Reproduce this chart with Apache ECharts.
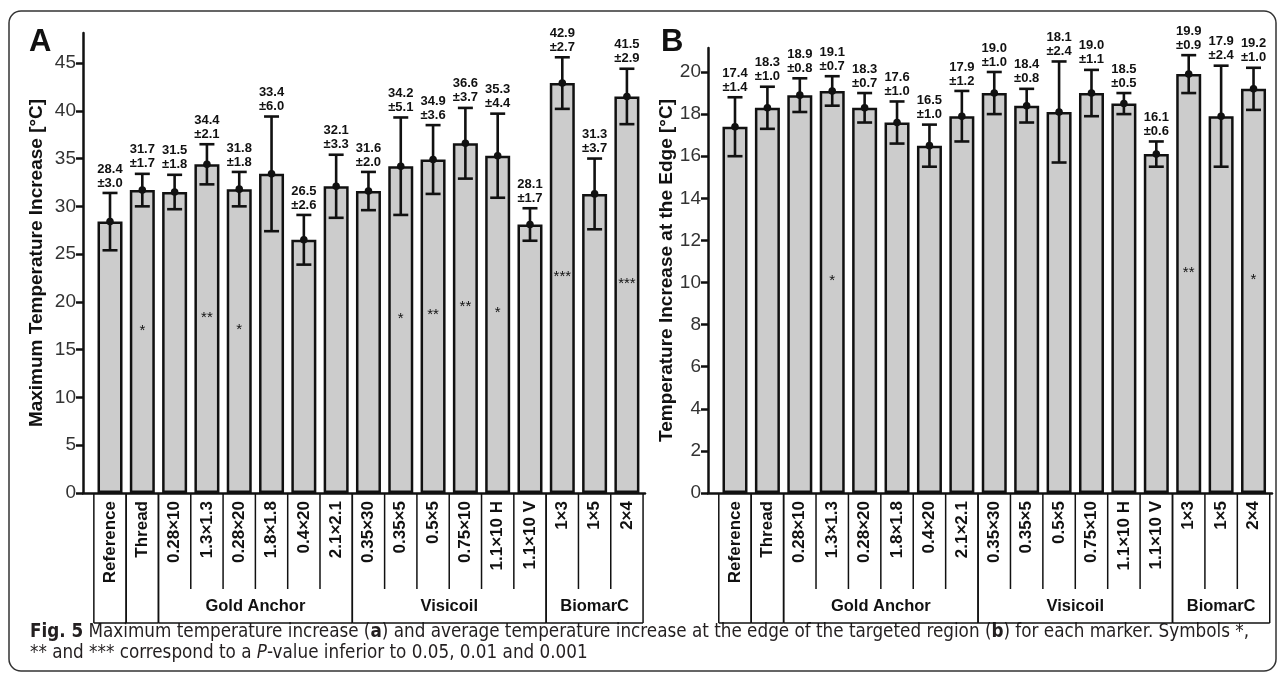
<!DOCTYPE html>
<html>
<head>
<meta charset="utf-8">
<script src="https://cdn.jsdelivr.net/npm/echarts@6/dist/echarts.min.js"></script>
<style>
  html, body { margin: 0; padding: 0; background: #fff; }
  #c { width: 1281px; height: 678px; }
</style>
</head>
<body>
<div id="c"></div>
<script>
// Markers, in plotting order
const categories = ['Reference', 'Thread', '0.28×10', '1.3×1.3', '0.28×20', '1.8×1.8', '0.4×20', '2.1×2.1',
  '0.35×30', '0.35×5', '0.5×5', '0.75×10', '1.1×10 H', '1.1×10 V', '1×3', '1×5', '2×4'];

// Marker families (index ranges into categories)
const groups = [
  { name: '', from: 0, to: 0 },
  { name: '', from: 1, to: 1 },
  { name: 'Gold Anchor', from: 2, to: 7 },
  { name: 'Visicoil', from: 8, to: 13 },
  { name: 'BiomarC', from: 14, to: 16 }
];

// Panel A: maximum temperature increase [°C]
const maxMean = [28.4, 31.7, 31.5, 34.4, 31.8, 33.4, 26.5, 32.1, 31.6, 34.2, 34.9, 36.6, 35.3, 28.1, 42.9, 31.3, 41.5];
const maxSd   = [3.0, 1.7, 1.8, 2.1, 1.8, 6.0, 2.6, 3.3, 2.0, 5.1, 3.6, 3.7, 4.4, 1.7, 2.7, 3.7, 2.9];
const maxStars = ['', '*', '', '**', '*', '', '', '', '', '*', '**', '**', '*', '', '***', '', '***'];
const maxTicks = [0, 5, 10, 15, 20, 25, 30, 35, 40, 45];

// Panel B: temperature increase at the edge [°C]
const edgeMean = [17.4, 18.3, 18.9, 19.1, 18.3, 17.6, 16.5, 17.9, 19.0, 18.4, 18.1, 19.0, 18.5, 16.1, 19.9, 17.9, 19.2];
const edgeSd   = [1.4, 1.0, 0.8, 0.7, 0.7, 1.0, 1.0, 1.2, 1.0, 0.8, 2.4, 1.1, 0.5, 0.6, 0.9, 2.4, 1.0];
const edgeStars = ['', '', '', '*', '', '', '', '', '', '', '', '', '', '', '**', '', '*'];
const edgeTicks = [0, 2, 4, 6, 8, 10, 12, 14, 16, 18, 20];

const SANS = "'Liberation Sans', Arial, Helvetica, sans-serif";
const COND = "'DejaVu Sans Condensed', 'Liberation Sans Narrow', sans-serif";
const INK = '#111';
const BOX_H = 129;     // depth of the label box under the x axis
const INNER_H = 95;    // depth of separators between markers of a family

function yAxisFor(idx, max, ticks, title, gap) {
  return {
    type: 'value', gridIndex: idx, min: 0, max: max,
    axisLine: { show: true, onZero: false, lineStyle: { color: INK, width: 2.5 } },
    axisTick: { show: true, length: 7, lineStyle: { color: INK, width: 2.5 }, customValues: ticks },
    axisLabel: { color: '#333', fontFamily: SANS, fontSize: 19, margin: 7, customValues: ticks },
    splitLine: { show: false },
    name: title, nameLocation: 'middle', nameGap: gap,
    nameTextStyle: { fontFamily: SANS, fontWeight: 'bold', fontSize: 19, color: INK }
  };
}

function xAxisFor(idx, min, max) {
  return {
    type: 'value', gridIndex: idx, min: min, max: max,
    axisLine: { show: true, onZero: true, lineStyle: { color: INK, width: 2.5 } },
    axisTick: { show: false }, axisLabel: { show: false }, splitLine: { show: false }
  };
}

function panelSeries(idx, mean, sd, stars) {
  const lineStyle = { stroke: INK, lineWidth: 2.6 };
  const thin = { stroke: INK, lineWidth: 1.5 };
  return [
    {
      type: 'bar', xAxisIndex: idx, yAxisIndex: idx,
      data: mean.map((m, i) => [i, m]),
      barWidth: 25,
      itemStyle: { color: '#cccccc', borderColor: INK, borderWidth: 2.5 },
      label: {
        show: true, position: 'inside', offset: [0, -11],
        formatter: p => stars[p.dataIndex],
        color: INK, fontFamily: SANS, fontSize: 15
      },
      z: 2
    },
    {
      // error bars, mean dots and "mean ±sd" labels
      type: 'custom', xAxisIndex: idx, yAxisIndex: idx, z: 5,
      data: mean.map((m, i) => [i, m, sd[i]]),
      renderItem(params, api) {
        const i = api.value(0), m = api.value(1), s = api.value(2);
        const top = api.coord([i, m + s]);
        const bot = api.coord([i, m - s]);
        const mid = api.coord([i, m]);
        const hw = 7.5;
        return {
          type: 'group', children: [
            { type: 'line', shape: { x1: top[0], y1: top[1], x2: bot[0], y2: bot[1] }, style: lineStyle },
            { type: 'line', shape: { x1: top[0] - hw, y1: top[1], x2: top[0] + hw, y2: top[1] }, style: lineStyle },
            { type: 'line', shape: { x1: bot[0] - hw, y1: bot[1], x2: bot[0] + hw, y2: bot[1] }, style: lineStyle },
            { type: 'circle', shape: { cx: mid[0], cy: mid[1], r: 3.8 }, style: { fill: INK } },
            {
              type: 'text', x: top[0], y: top[1] - 3,
              style: {
                text: m.toFixed(1) + '\n±' + s.toFixed(1),
                align: 'center', verticalAlign: 'bottom',
                font: 'bold 13px ' + SANS, lineHeight: 14, fill: INK
              }
            }
          ]
        };
      }
    },
    {
      // rotated marker names under the x axis
      type: 'custom', xAxisIndex: idx, yAxisIndex: idx, z: 5, clip: false,
      data: categories.map((c, i) => [i, 0]),
      renderItem(params, api) {
        const p = api.coord([api.value(0), 0]);
        return {
          type: 'text', x: p[0], y: p[1] + 8, rotation: Math.PI / 2,
          style: {
            text: categories[params.dataIndex], align: 'right', verticalAlign: 'middle',
            font: 'bold 17px ' + SANS, fill: INK
          }
        };
      }
    },
    {
      // family boxes with their names
      type: 'custom', xAxisIndex: idx, yAxisIndex: idx, z: 5, clip: false,
      data: groups.map(g => [g.from, g.to]),
      renderItem(params, api) {
        const g = groups[params.dataIndex];
        const half = api.size([1, 0])[0] / 2;
        const a = api.coord([g.from, 0]);
        const b = api.coord([g.to, 0]);
        const x0 = a[0] - half, x1 = b[0] + half, y0 = a[1] + 1;
        const children = [
          { type: 'line', shape: { x1: x0, y1: y0, x2: x0, y2: y0 + BOX_H }, style: thin },
          { type: 'line', shape: { x1: x1, y1: y0, x2: x1, y2: y0 + BOX_H }, style: thin },
          { type: 'line', shape: { x1: x0, y1: y0 + BOX_H, x2: x1, y2: y0 + BOX_H }, style: thin }
        ];
        for (let j = g.from; j < g.to; j++) {
          const x = api.coord([j, 0])[0] + half;
          children.push({ type: 'line', shape: { x1: x, y1: y0, x2: x, y2: y0 + INNER_H }, style: thin });
        }
        if (g.name) {
          children.push({
            type: 'text', x: (x0 + x1) / 2, y: y0 + 112,
            style: { text: g.name, align: 'center', verticalAlign: 'middle', font: 'bold 16.5px ' + SANS, fill: INK }
          });
        }
        return { type: 'group', children: children };
      }
    }
  ];
}

const chart = echarts.init(document.getElementById('c'), null, { renderer: 'canvas' });

chart.setOption({
  animation: false,
  backgroundColor: '#fff',
  grid: [
    { left: 83, top: 33, width: 562, height: 460 },
    { left: 708, top: 48, width: 564, height: 445 }
  ],
  xAxis: [xAxisFor(0, -0.836, 16.56), xAxisFor(1, -0.833, 16.57)],
  yAxis: [
    yAxisFor(0, 48.14, maxTicks, 'Maximum Temperature Increase [°C]', 37),
    yAxisFor(1, 21.14, edgeTicks, 'Temperature Increase at the Edge [°C]', 25)
  ],
  series: [
    ...panelSeries(0, maxMean, maxSd, maxStars),
    ...panelSeries(1, edgeMean, edgeSd, edgeStars)
  ],
  graphic: [
    {
      type: 'rect', shape: { x: 9, y: 11, width: 1267, height: 660, r: 12 },
      style: { fill: null, stroke: '#333', lineWidth: 1.5 }, silent: true
    },
    { type: 'text', x: 29, y: 42, style: { text: 'A', font: 'bold 31px ' + SANS, fill: INK, verticalAlign: 'middle' } },
    { type: 'text', x: 661, y: 42, style: { text: 'B', font: 'bold 31px ' + SANS, fill: INK, verticalAlign: 'middle' } },
    {
      type: 'text', x: 30, y: 622,
      style: {
        text: '{b|Fig. 5} Maximum temperature increase ({b|a}) and average temperature increase at the edge of the targeted region ({b|b}) for each marker. Symbols *,\n** and *** correspond to a {i|P}-value inferior to 0.05, 0.01 and 0.001',
        font: '18.7px ' + COND,
        fill: '#231f20', lineHeight: 21, verticalAlign: 'top',
        rich: {
          b: { fontWeight: 'bold', fontFamily: COND, fontSize: 18.7 },
          i: { fontStyle: 'italic', fontFamily: COND, fontSize: 18.7 }
        }
      }
    }
  ]
});
</script>
</body>
</html>
